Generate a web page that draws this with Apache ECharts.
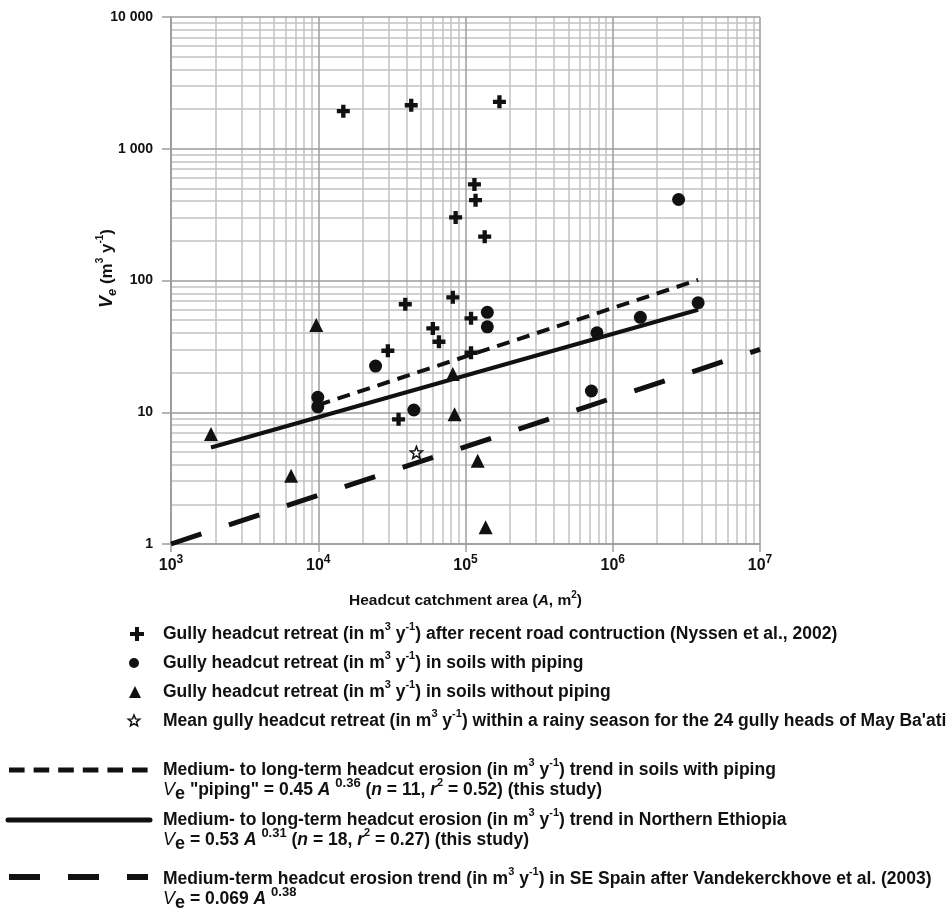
<!DOCTYPE html>
<html>
<head>
<meta charset="utf-8">
<script src="https://cdn.jsdelivr.net/npm/echarts@6/dist/echarts.min.js"></script>
<style>
html, body { margin: 0; padding: 0; background: #fff; }
#chart { width: 951px; height: 911px; }
</style>
</head>
<body>
<div id="chart"></div>
<script>
// headcut catchment area A (m2) / retreat volume Ve (m3 per year)
const roadArea = [14800, 42800, 170000, 115000, 117000, 85700, 135000, 39000, 82000, 109000, 60000, 66000, 29700, 109000, 35100]
const roadVol = [1930, 2140, 2270, 536, 407, 301, 215, 66, 74.5, 51.6, 43.3, 34.3, 29.3, 28.3, 8.84]
const pipingArea = [9930, 9930, 24500, 44600, 140700, 140700, 716000, 781000, 1540000, 3800000, 2800000]
const pipingVol = [13.0, 11.0, 22.4, 10.4, 57.3, 44.5, 14.5, 40.1, 52.5, 67.8, 412]
const noPipingArea = [1870, 9690, 6540, 82000, 84300, 121000, 137000]
const noPipingVol = [6.83, 45.9, 3.3, 19.5, 9.64, 4.29, 1.34]
const meanArea = [46400]
const meanVol = [4.96]

// trend lines (end points)
const pipingTrend = [[9900, 11.3], [3800000, 101]]
const ethiopiaTrend = [[1870, 5.4], [3800000, 60]]
const spainTrend = [[1000, 1], [10000000, 30]]

const yTickLabels = { 1: '1', 10: '10', 100: '100', 1000: '1 000', 10000: '10 000' }
const decadesX = [1e3, 1e4, 1e5, 1e6]
const decadesY = [1, 10, 100, 1000]

const font = 'Liberation Sans, Arial, sans-serif'
const ink = '#111'
const gridMajor = '#9c9c9c'
const gridMinor = '#c2c2c2'

const zip = (a, b) => a.map((v, i) => [v, b[i]])

// minor grid values 2..9 within each decade
const minorX = []
decadesX.forEach((d) => { for (let k = 2; k <= 9; k++) minorX.push(k * d) })
const minorY = []
decadesY.forEach((d) => { for (let k = 2; k <= 9; k++) minorY.push(k * d) })

const crossPath = 'path://M4,0H8V4H12V8H8V12H4V8H0V4H4Z'
const starPts = (cx, cy, R, r) => {
  const pts = []
  for (let i = 0; i < 10; i++) {
    const a = -Math.PI / 2 + i * Math.PI / 5
    const rad = i % 2 ? r : R
    pts.push([cx + rad * Math.cos(a), cy + rad * Math.sin(a)])
  }
  return pts
}
const starPath = 'path://M' + starPts(10, 10, 10, 4.2).map((p) => p[0].toFixed(2) + ',' + p[1].toFixed(2)).join('L') + 'Z'

const legendRich = {
  sup: { fontSize: 11, fontWeight: 'bold', fontFamily: font, verticalAlign: 'top', fill: ink },
  sup2: { fontSize: 13, fontWeight: 'bold', fontFamily: font, verticalAlign: 'top', fill: ink },
  sub: { fontSize: 18, fontWeight: 'bold', fontFamily: font, verticalAlign: 'bottom', fill: ink },
  vi: { fontSize: 18, fontStyle: 'italic', fontWeight: 'normal', fontFamily: font, fill: ink },
  it: { fontSize: 17.5, fontStyle: 'italic', fontWeight: 'bold', fontFamily: font, fill: ink }
}
const legendText = (x, y, text) => ({
  type: 'text',
  x: x,
  y: y,
  style: {
    text: text,
    fill: ink,
    fontSize: 17.5,
    fontWeight: 'bold',
    fontFamily: font,
    lineHeight: 26,
    verticalAlign: 'middle',
    rich: legendRich
  }
})
const unit = '(in m{sup|3} y{sup|-1})'

const rowY = [634, 663, 692, 721]
const graphics = [
  // marker keys
  { type: 'rect', shape: { x: 130, y: rowY[0] - 2, width: 14, height: 4 }, style: { fill: ink } },
  { type: 'rect', shape: { x: 135, y: rowY[0] - 7, width: 4, height: 14 }, style: { fill: ink } },
  { type: 'circle', shape: { cx: 134, cy: rowY[1], r: 5 }, style: { fill: ink } },
  { type: 'polygon', shape: { points: [[129, rowY[2] + 6], [141, rowY[2] + 6], [135, rowY[2] - 6]] }, style: { fill: ink } },
  { type: 'polygon', shape: { points: starPts(134, rowY[3], 6, 2.6) }, style: { fill: '#fff', stroke: ink, lineWidth: 1.5 } },
  legendText(163, rowY[0], 'Gully headcut retreat ' + unit + ' after recent road contruction (Nyssen et al., 2002)'),
  legendText(163, rowY[1], 'Gully headcut retreat ' + unit + ' in soils with piping'),
  legendText(163, rowY[2], 'Gully headcut retreat ' + unit + ' in soils without piping'),
  legendText(163, rowY[3], 'Mean gully headcut retreat ' + unit + ' within a rainy season for the 24 gully heads of May Ba\'ati'),
  // line keys
  { type: 'line', shape: { x1: 9, y1: 770, x2: 148, y2: 770 }, style: { stroke: ink, lineWidth: 5, lineDash: [15.6, 9] } },
  legendText(163, 770, 'Medium- to long-term headcut erosion ' + unit + ' trend in soils with piping'),
  legendText(163, 790, '{vi|V}{sub|e} "piping" = 0.45 {it|A} {sup2|0.36} ({it|n} = 11, {it|r}{sup|2} = 0.52) (this study)'),
  { type: 'line', shape: { x1: 8, y1: 820, x2: 150, y2: 820 }, style: { stroke: ink, lineWidth: 5, lineCap: 'round' } },
  legendText(163, 820, 'Medium- to long-term headcut erosion ' + unit + ' trend in Northern Ethiopia'),
  legendText(163, 840, '{vi|V}{sub|e} = 0.53 {it|A} {sup2|0.31} ({it|n} = 18, {it|r}{sup|2} = 0.27) (this study)'),
  { type: 'line', shape: { x1: 9, y1: 877, x2: 148, y2: 877 }, style: { stroke: ink, lineWidth: 6, lineDash: [31, 28] } },
  legendText(163, 879, 'Medium-term headcut erosion trend ' + unit + ' in SE Spain after Vandekerckhove et al. (2003)'),
  legendText(163, 899, '{vi|V}{sub|e} = 0.069 {it|A} {sup2|0.38}')
]

const chart = echarts.init(document.getElementById('chart'))
window.addEventListener('resize', () => {
  chart.resize()
})

const option = {
  animation: false,
  backgroundColor: '#fff',
  grid: { left: 171, right: 191, top: 17, bottom: 367 },
  xAxis: {
    type: 'log',
    logBase: 10,
    min: 1000,
    max: 10000000,
    z: 1,
    axisLine: { lineStyle: { color: gridMajor, width: 1.5 } },
    axisTick: { show: true, length: 8, lineStyle: { color: gridMajor, width: 1.5 } },
    splitLine: { show: true, lineStyle: { color: gridMajor, width: 1.5 } },
    axisLabel: {
      margin: 10,
      formatter: (v) => '{b|10}{s|' + Math.round(Math.log10(v)) + '}',
      rich: {
        b: { fontSize: 16, fontWeight: 'bold', fontFamily: font, color: ink, lineHeight: 24 },
        s: { fontSize: 12, fontWeight: 'bold', fontFamily: font, color: ink, verticalAlign: 'top' }
      }
    },
    name: '{n|Headcut catchment area (}{i|A}{n|, m}{s|2}{n|)}',
    nameLocation: 'middle',
    nameGap: 46,
    nameMoveOverlap: false,
    nameTextStyle: {
      rich: {
        n: { fontSize: 15.5, fontWeight: 'bold', fontFamily: font, color: ink, lineHeight: 22 },
        i: { fontSize: 15.5, fontWeight: 'bold', fontStyle: 'italic', fontFamily: font, color: ink },
        s: { fontSize: 10, fontWeight: 'bold', fontFamily: font, color: ink, verticalAlign: 'top' }
      }
    }
  },
  yAxis: {
    type: 'log',
    logBase: 10,
    min: 1,
    max: 10000,
    z: 1,
    axisLine: { lineStyle: { color: gridMajor, width: 1.5 } },
    axisTick: { show: true, length: 9, lineStyle: { color: gridMajor, width: 1.5 } },
    splitLine: { show: true, lineStyle: { color: gridMajor, width: 1.5 } },
    axisLabel: {
      margin: 18,
      fontSize: 14,
      fontWeight: 'bold',
      fontFamily: font,
      color: ink,
      formatter: (v) => yTickLabels[Math.round(v)] || ''
    },
    name: '{v|V}{e|e}{n| (m}{s|3}{n| y}{s|-1}{n|)}',
    nameLocation: 'middle',
    nameGap: 52,
    nameMoveOverlap: false,
    nameTextStyle: {
      padding: [0, 0, 0, 24],
      rich: {
        v: { fontSize: 18, fontWeight: 'bold', fontStyle: 'italic', fontFamily: font, color: ink, lineHeight: 24 },
        e: { fontSize: 13, fontWeight: 'bold', fontStyle: 'italic', fontFamily: font, color: ink, verticalAlign: 'bottom' },
        n: { fontSize: 17, fontWeight: 'bold', fontFamily: font, color: ink },
        s: { fontSize: 10, fontWeight: 'bold', fontFamily: font, color: ink, verticalAlign: 'top' }
      }
    }
  },
  graphic: graphics,
  series: [
    {
      // minor grid lines
      type: 'line',
      data: [],
      silent: true,
      z: 0,
      markLine: {
        silent: true,
        z: 0,
        symbol: 'none',
        animation: false,
        label: { show: false },
        lineStyle: { color: gridMinor, width: 1.5, type: 'solid' },
        emphasis: { disabled: true },
        data: minorX.map((v) => ({ xAxis: v })).concat(minorY.map((v) => ({ yAxis: v })))
      }
    },
    {
      type: 'line',
      data: spainTrend,
      showSymbol: false,
      z: 3,
      lineStyle: { color: ink, width: 5, type: [32, 29] }
    },
    {
      type: 'line',
      data: pipingTrend,
      showSymbol: false,
      z: 3,
      lineStyle: { color: ink, width: 4, type: [13, 8] }
    },
    {
      type: 'line',
      data: ethiopiaTrend,
      showSymbol: false,
      z: 3,
      lineStyle: { color: ink, width: 4 }
    },
    {
      type: 'scatter',
      data: zip(roadArea, roadVol),
      symbol: crossPath,
      symbolSize: 13,
      z: 4,
      itemStyle: { color: ink, opacity: 1 }
    },
    {
      type: 'scatter',
      data: zip(pipingArea, pipingVol),
      symbol: 'circle',
      symbolSize: 13,
      z: 4,
      itemStyle: { color: ink, opacity: 1 }
    },
    {
      type: 'scatter',
      data: zip(noPipingArea, noPipingVol),
      symbol: 'triangle',
      symbolSize: 14,
      z: 4,
      itemStyle: { color: ink, opacity: 1 }
    },
    {
      type: 'scatter',
      data: zip(meanArea, meanVol),
      symbol: starPath,
      symbolSize: 12,
      z: 4,
      itemStyle: { color: '#fff', borderColor: ink, borderWidth: 1.5, opacity: 1 }
    }
  ]
}
chart.setOption(option)
</script>
</body>
</html>
